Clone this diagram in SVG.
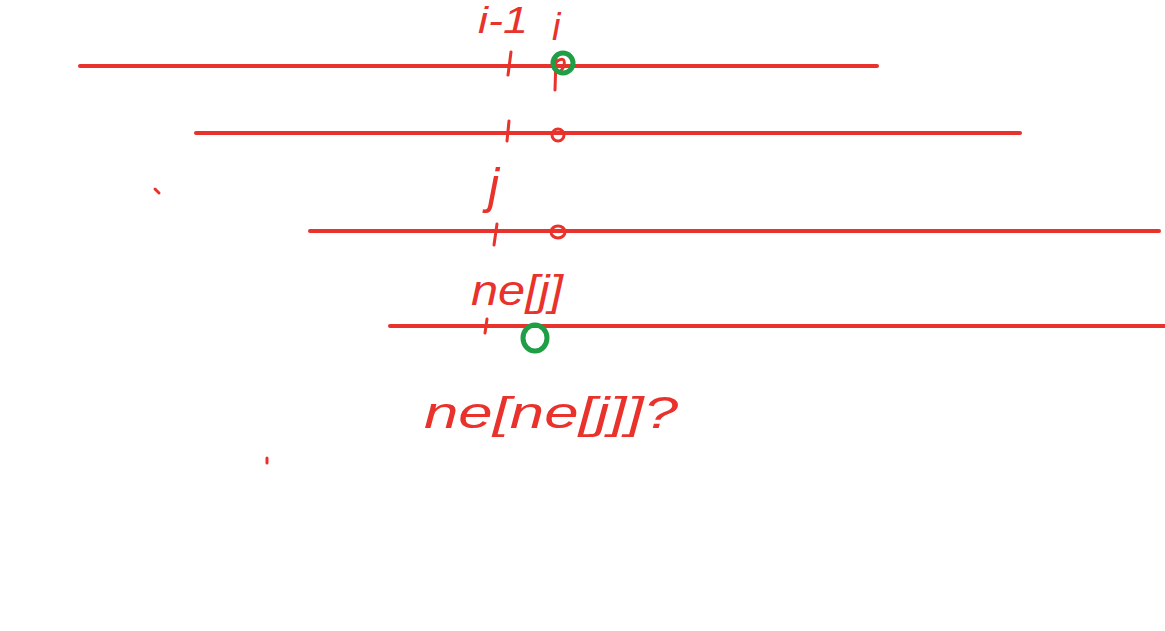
<svg xmlns="http://www.w3.org/2000/svg" width="1165" height="631" viewBox="0 0 1165 631">
<style>
.ln{stroke:#e8322b;stroke-width:4;stroke-linecap:round;fill:none}
.tk{stroke:#e8322b;stroke-width:3;stroke-linecap:round;fill:none}
.gc{stroke:#1f9e45;stroke-width:5;fill:none}
.t{fill:#e8322b;font-family:"Liberation Sans",sans-serif;font-style:italic}
</style>
<rect width="1165" height="631" fill="#ffffff"/>
<g id="connectors">
<line class="ln" x1="80" y1="66" x2="877" y2="66"/>
<line class="ln" x1="196" y1="133" x2="1020" y2="133"/>
<line class="ln" x1="310" y1="231" x2="1159" y2="231"/>
<line class="ln" x1="390" y1="326" x2="1165" y2="326"/>
</g>
<g id="row1">
<line class="tk" x1="511" y1="52" x2="508" y2="75"/>
<line class="tk" x1="556" y1="58" x2="555" y2="90"/>
<path class="tk" d="M556 62 Q566 55 564 66 Q560 74 556 72"/>
<circle class="gc" cx="563" cy="63" r="10"/>
<text class="t" x="478" y="33" font-size="36" textLength="50" lengthAdjust="spacingAndGlyphs">i-1</text>
<text class="t" x="552" y="40" font-size="38">i</text>
</g>
<g id="row2">
<line class="tk" x1="509" y1="121" x2="507" y2="141"/>
<ellipse class="tk" cx="558" cy="135" rx="6" ry="6"/>
<text class="t" x="488" y="203" font-size="50">j</text>
</g>
<g id="row3">
<line class="tk" x1="497" y1="224" x2="494" y2="245"/>
<ellipse class="tk" cx="558" cy="232" rx="7" ry="6"/>
<text class="t" x="471" y="305" font-size="42" textLength="92" lengthAdjust="spacingAndGlyphs">ne[j]</text>
</g>
<g id="row4">
<line class="tk" x1="487" y1="319" x2="485" y2="333"/>
<ellipse class="gc" cx="535" cy="338" rx="12" ry="13"/>
<text class="t" x="424" y="428" font-size="44" textLength="254" lengthAdjust="spacingAndGlyphs">ne[ne[j]]?</text>
</g>
<g id="marks">
<path class="tk" d="M155 189 L159 193"/>
<path class="tk" d="M267 458 L267 463"/>
</g>
</svg>
